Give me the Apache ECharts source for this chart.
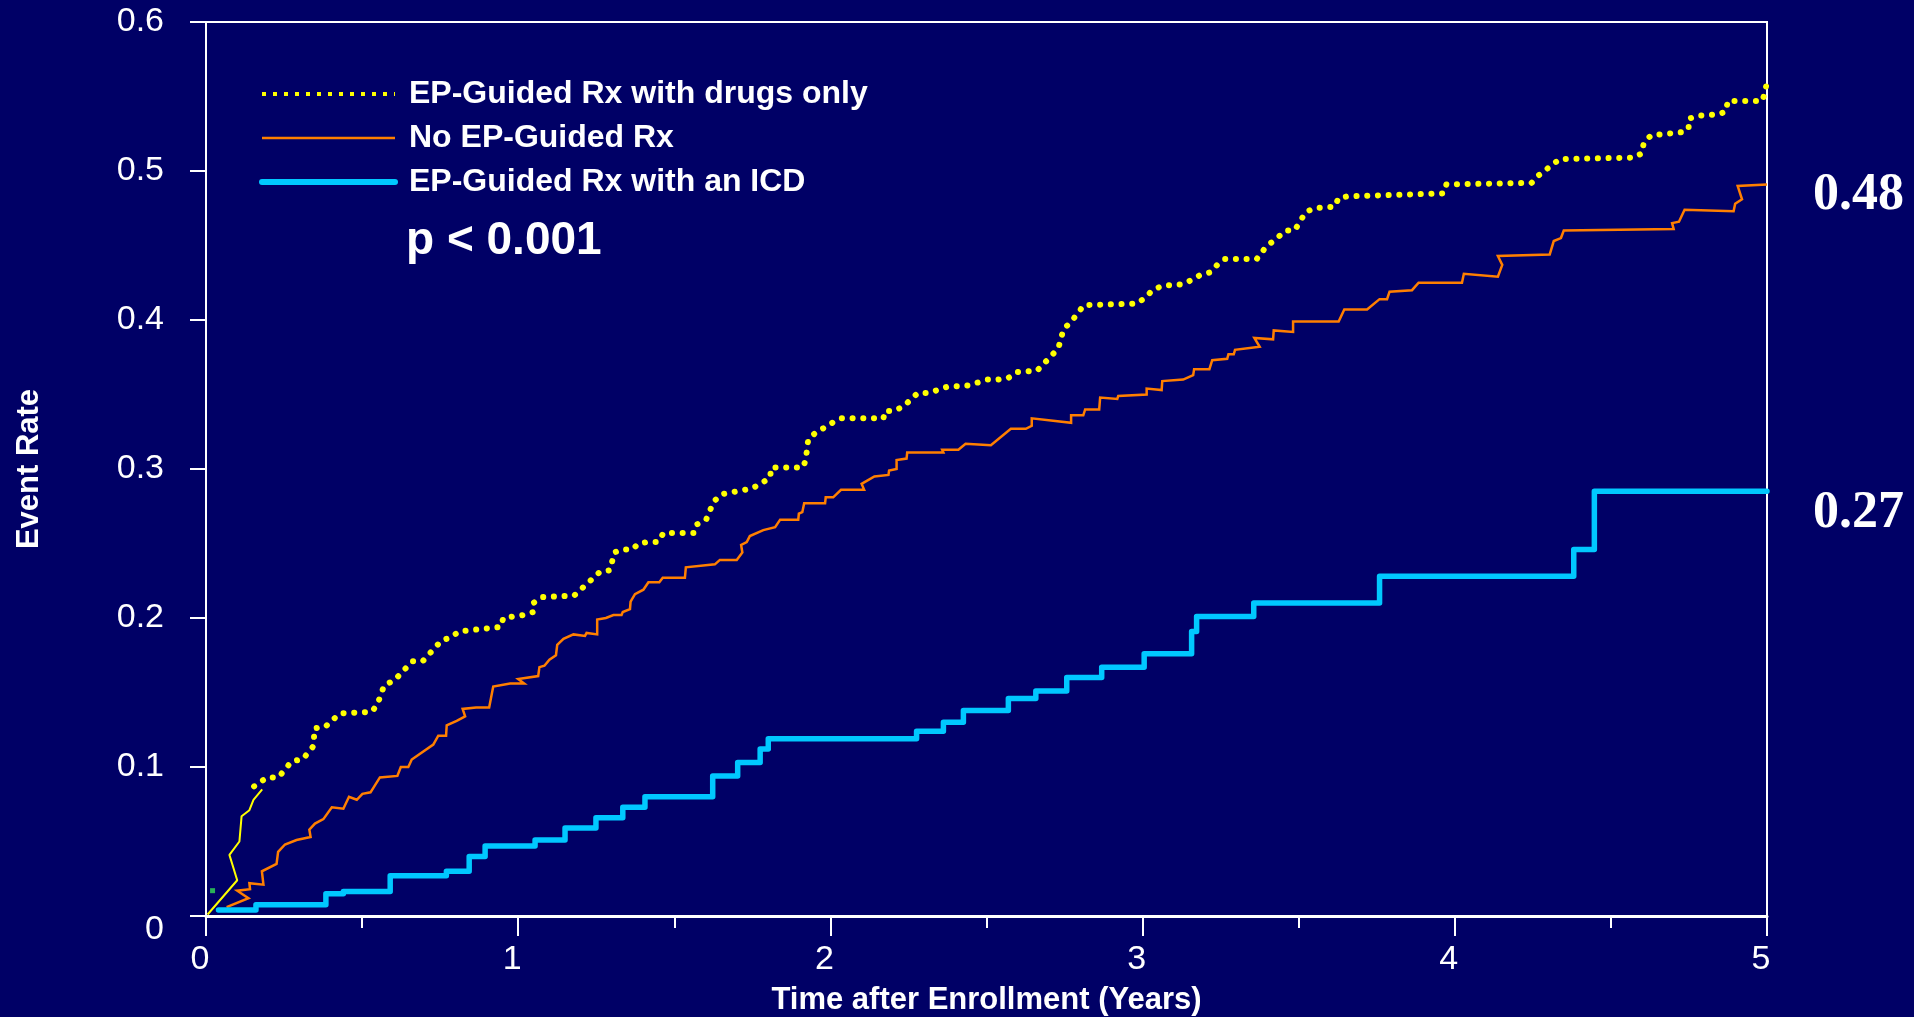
<!DOCTYPE html>
<html>
<head>
<meta charset="utf-8">
<script src="https://cdn.jsdelivr.net/npm/echarts@6/dist/echarts.min.js"></script>
<style>
html,body{margin:0;padding:0;background:#000066;}
#chart{width:1914px;height:1017px;}
</style>
</head>
<body>
<div id="chart"></div>
<script>
// ---- data ----
const seriesNames = ['EP-Guided Rx with drugs only', 'No EP-Guided Rx', 'EP-Guided Rx with an ICD'];
const xTickValues = [0, 1, 2, 3, 4, 5];
const yTickValues = [0, 0.1, 0.2, 0.3, 0.4, 0.5, 0.6];
const finalRates = ['0.48', '0.27'];
const pValueText = 'p < 0.001';
const xTitle = 'Time after Enrollment (Years)';
const yTitle = 'Event Rate';

// EP-Guided Rx with drugs only (dotted part), [years, event rate]
const drugsOnlyCurve = [[0.154,0.087],[0.196,0.093],[0.232,0.093],[0.275,0.104],[0.309,0.105],[0.344,0.114],[0.348,0.126],[0.382,0.127],[0.429,0.136],[0.531,0.137],[0.549,0.142],[0.571,0.155],[0.603,0.158],[0.661,0.171],[0.694,0.171],[0.755,0.185],[0.785,0.187],[0.810,0.191],[0.945,0.194],[0.952,0.200],[1.019,0.202],[1.048,0.204],[1.048,0.210],[1.077,0.214],[1.179,0.215],[1.262,0.231],[1.294,0.232],[1.308,0.244],[1.331,0.246],[1.366,0.246],[1.385,0.250],[1.414,0.251],[1.448,0.251],[1.465,0.257],[1.565,0.257],[1.574,0.263],[1.602,0.266],[1.626,0.278],[1.650,0.283],[1.750,0.287],[1.807,0.294],[1.810,0.301],[1.912,0.301],[1.921,0.306],[1.929,0.320],[1.951,0.324],[2.006,0.331],[2.033,0.334],[2.170,0.334],[2.174,0.339],[2.204,0.339],[2.234,0.342],[2.280,0.351],[2.314,0.351],[2.372,0.355],[2.440,0.356],[2.502,0.360],[2.536,0.360],[2.569,0.361],[2.596,0.365],[2.662,0.366],[2.708,0.376],[2.730,0.381],[2.747,0.394],[2.772,0.399],[2.812,0.410],[2.982,0.411],[3.008,0.415],[3.032,0.420],[3.063,0.423],[3.130,0.424],[3.158,0.427],[3.183,0.430],[3.217,0.432],[3.239,0.437],[3.264,0.441],[3.366,0.441],[3.395,0.449],[3.436,0.456],[3.457,0.460],[3.486,0.460],[3.505,0.466],[3.520,0.472],[3.548,0.475],[3.615,0.476],[3.628,0.482],[3.657,0.483],[3.964,0.485],[3.973,0.491],[4.246,0.492],[4.268,0.497],[4.293,0.501],[4.336,0.508],[4.575,0.509],[4.600,0.512],[4.605,0.519],[4.629,0.524],[4.727,0.526],[4.749,0.528],[4.749,0.535],[4.776,0.537],[4.844,0.538],[4.869,0.540],[4.874,0.547],[4.985,0.547],[4.995,0.554],[5.0,0.561]];

// EP-Guided Rx with drugs only, early solid segment
const drugsOnlyEarly = [[0.005,0.001],[0.100,0.024],[0.075,0.041],[0.107,0.050],[0.114,0.067],[0.139,0.071],[0.152,0.078],[0.180,0.085]];

// No EP-Guided Rx
const noEpCurve = [[0.066,0.006],[0.136,0.012],[0.100,0.017],[0.141,0.018],[0.139,0.022],[0.184,0.021],[0.179,0.030],[0.226,0.035],[0.231,0.043],[0.253,0.048],[0.290,0.051],[0.335,0.053],[0.331,0.058],[0.349,0.062],[0.376,0.065],[0.403,0.073],[0.440,0.072],[0.458,0.080],[0.483,0.078],[0.501,0.082],[0.527,0.083],[0.557,0.093],[0.613,0.094],[0.624,0.100],[0.648,0.100],[0.659,0.105],[0.728,0.115],[0.744,0.121],[0.769,0.121],[0.771,0.128],[0.803,0.131],[0.830,0.134],[0.822,0.139],[0.865,0.140],[0.907,0.140],[0.920,0.154],[0.974,0.156],[1.019,0.156],[1.000,0.159],[1.064,0.161],[1.068,0.167],[1.084,0.168],[1.100,0.172],[1.121,0.175],[1.125,0.182],[1.145,0.186],[1.177,0.189],[1.214,0.188],[1.219,0.190],[1.253,0.189],[1.253,0.199],[1.281,0.200],[1.305,0.202],[1.331,0.202],[1.335,0.204],[1.358,0.206],[1.360,0.211],[1.374,0.216],[1.401,0.219],[1.417,0.224],[1.452,0.224],[1.463,0.227],[1.534,0.227],[1.537,0.234],[1.630,0.236],[1.646,0.239],[1.700,0.239],[1.718,0.244],[1.714,0.249],[1.732,0.251],[1.742,0.255],[1.785,0.259],[1.823,0.261],[1.839,0.266],[1.897,0.266],[1.899,0.270],[1.910,0.271],[1.916,0.277],[1.983,0.277],[1.985,0.281],[2.009,0.281],[2.034,0.286],[2.108,0.286],[2.100,0.290],[2.141,0.295],[2.186,0.296],[2.188,0.299],[2.212,0.300],[2.212,0.306],[2.244,0.307],[2.246,0.311],[2.362,0.311],[2.358,0.313],[2.410,0.313],[2.433,0.317],[2.514,0.316],[2.578,0.327],[2.626,0.327],[2.645,0.329],[2.645,0.334],[2.771,0.331],[2.771,0.336],[2.810,0.336],[2.816,0.340],[2.861,0.340],[2.864,0.348],[2.919,0.347],[2.922,0.349],[3.013,0.350],[3.013,0.354],[3.061,0.353],[3.063,0.359],[3.130,0.360],[3.136,0.361],[3.162,0.363],[3.165,0.367],[3.214,0.367],[3.223,0.373],[3.271,0.374],[3.275,0.377],[3.292,0.377],[3.296,0.380],[3.375,0.382],[3.358,0.388],[3.418,0.387],[3.420,0.393],[3.482,0.392],[3.482,0.399],[3.628,0.399],[3.646,0.407],[3.719,0.407],[3.759,0.414],[3.783,0.414],[3.791,0.419],[3.863,0.420],[3.884,0.425],[4.023,0.425],[4.029,0.431],[4.138,0.429],[4.152,0.437],[4.138,0.443],[4.304,0.444],[4.317,0.453],[4.340,0.455],[4.349,0.460],[4.701,0.461],[4.696,0.465],[4.718,0.466],[4.736,0.474],[4.893,0.473],[4.898,0.478],[4.920,0.481],[4.906,0.490],[5.0,0.491]];

// EP-Guided Rx with an ICD (step curve)
const icdCurve = [[0.04,0.004],[0.16,0.0075],[0.384,0.015],[0.44,0.0165],[0.59,0.027],[0.77,0.030],[0.843,0.040],[0.894,0.047],[1.054,0.051],[1.15,0.059],[1.249,0.066],[1.335,0.073],[1.406,0.080],[1.623,0.094],[1.703,0.103],[1.775,0.112],[1.801,0.119],[2.276,0.124],[2.362,0.130],[2.426,0.138],[2.57,0.146],[2.658,0.151],[2.757,0.160],[2.869,0.167],[3.005,0.176],[3.157,0.191],[3.173,0.201],[3.356,0.210],[3.759,0.228],[4.381,0.246],[4.447,0.285],[5.0,0.285]];

// small green mark near the origin
const strayMark = [[0.021,0.017]];

// ---- chart ----
const chart = echarts.init(document.getElementById('chart'), null, {renderer: 'canvas'});
const sans = 'Liberation Sans, Arial, sans-serif';
const serif = 'Liberation Serif, Times New Roman, serif';
const white = '#ffffff';
const yellow = '#FFFF00', orange = '#FF7F00', blue = '#00C8FF';
const hiddenSymbol = {color: 'rgba(0,0,0,0)', borderWidth: 0, opacity: 0};

chart.setOption({
  backgroundColor: '#000066',
  animation: false,
  textStyle: {fontFamily: sans},
  title: {
    text: pValueText, left: 406, top: 218, padding: 0,
    textStyle: {color: white, fontSize: 46, fontWeight: 'bold', fontFamily: sans}
  },
  legend: {
    data: [
      {name: seriesNames[0], itemStyle: hiddenSymbol, lineStyle: {color: yellow, width: 4, type: [4, 7], cap: 'butt'}},
      {name: seriesNames[1], itemStyle: hiddenSymbol, lineStyle: {color: orange, width: 2.5, type: 'solid'}},
      {name: seriesNames[2], itemStyle: hiddenSymbol, lineStyle: {color: blue, width: 6, type: 'solid'}}
    ],
    orient: 'vertical', left: 259, top: 78, padding: 0,
    itemWidth: 133, itemHeight: 14, itemGap: 12,
    selectedMode: false,
    textStyle: {color: white, fontSize: 32, fontWeight: 'bold', fontFamily: sans, lineHeight: 32, padding: [0, 0, 0, 9]}
  },
  grid: {
    left: 206, right: 147, top: 22, bottom: 101,
    containLabel: false, outerBoundsMode: 'none',
    show: true, borderColor: white, borderWidth: 2, backgroundColor: 'transparent'
  },
  xAxis: {
    type: 'value', min: xTickValues[0], max: xTickValues[xTickValues.length - 1], interval: 1,
    name: xTitle, nameLocation: 'middle', nameGap: 69,
    nameTextStyle: {color: white, fontSize: 31, fontWeight: 'bold', fontFamily: sans},
    axisLine: {show: true, onZero: false, lineStyle: {color: white, width: 3}},
    axisTick: {show: true, length: 20, lineStyle: {color: white, width: 2}},
    minorTick: {show: true, splitNumber: 2, length: 12, lineStyle: {color: white, width: 2}},
    axisLabel: {color: white, fontSize: 34, margin: 27, padding: [0, 12, 0, 0], fontFamily: sans},
    splitLine: {show: false}
  },
  yAxis: {
    type: 'value', min: yTickValues[0], max: yTickValues[yTickValues.length - 1], interval: 0.1,
    name: yTitle, nameLocation: 'middle', nameRotate: 90, nameGap: 161,
    nameTextStyle: {color: white, fontSize: 31, fontWeight: 'bold', fontFamily: sans},
    axisLine: {show: true, lineStyle: {color: white, width: 2}},
    axisTick: {show: true, length: 16, lineStyle: {color: white, width: 2}},
    axisLabel: {color: white, fontSize: 34, margin: 42, fontFamily: sans,
      formatter: v => (v === 0 ? '{zero|0}' : v.toFixed(1)),
      rich: {zero: {color: white, fontSize: 34, fontFamily: sans, padding: [28, 0, 0, 0]}}},
    splitLine: {show: false}
  },
  series: [
    {
      name: seriesNames[1], type: 'line', data: noEpCurve, symbol: 'none', z: 3,
      itemStyle: {color: orange},
      lineStyle: {color: orange, width: 2.5, join: 'miter'},
      endLabel: {show: true, formatter: finalRates[0], color: white, fontFamily: serif,
        fontWeight: 'bold', fontSize: 52, distance: 46, offset: [0, 11]}
    },
    {
      name: seriesNames[2], type: 'line', data: icdCurve, step: 'end', symbol: 'none', z: 4,
      itemStyle: {color: blue},
      lineStyle: {color: blue, width: 5.5, cap: 'round', join: 'round'},
      endLabel: {show: true, formatter: finalRates[1], color: white, fontFamily: serif,
        fontWeight: 'bold', fontSize: 52, distance: 46, offset: [0, 22]}
    },
    {
      name: seriesNames[0], type: 'line', data: drugsOnlyCurve, symbol: 'none', z: 5,
      itemStyle: {color: yellow},
      lineStyle: {color: yellow, width: 6, type: [0.1, 10.6], cap: 'round'}
    },
    {
      name: 'drugsOnlyEarly', type: 'line', data: drugsOnlyEarly, symbol: 'none', z: 5,
      lineStyle: {color: yellow, width: 2}
    },
    {
      name: 'strayMark', type: 'scatter', data: strayMark, symbol: 'rect', symbolSize: 5, z: 5,
      itemStyle: {color: '#33DD55'}
    }
  ]
});
</script>
</body>
</html>
